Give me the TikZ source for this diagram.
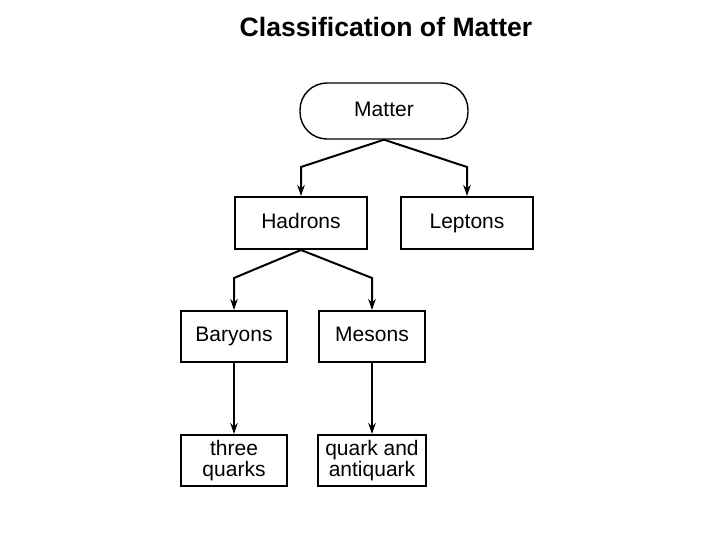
\documentclass[tikz,border=0pt]{standalone}
\usepackage{fontspec}
\setmainfont{Liberation Sans}
\usetikzlibrary{arrows.meta,positioning,calc}

\begin{document}
\begin{tikzpicture}[x=1pt,y=1pt,
    n/.style={draw,line width=2pt,minimum width=132pt,minimum height=52pt,align=center,inner sep=2pt,font=\fontsize{21}{21.5}\selectfont},
    one/.style={text height=15pt,text depth=4.5pt},
    sm/.style={n,minimum width=106pt,minimum height=51pt},
    pill/.style={n,rounded corners=27pt,minimum width=168pt,minimum height=56pt,line width=1.4pt},
    a/.style={-{Stealth[length=11pt,width=7.5pt]},line width=2pt,line join=miter}]
    \useasboundingbox (0,0) rectangle (720,-540);
    \node[font=\fontsize{26.6}{30}\selectfont\bfseries] (title) at (386,-27) {Classification of Matter};
    \node[pill,one] (m) at (384,-111) {Matter};
    \node[n,one] (h) at (301,-223) {Hadrons};
    \node[n,one,right=32pt of h] (l) {Leptons};
    \node[sm,one] (b) at (234,-336.5) {Baryons};
    \node[sm,one,right=30pt of b] (me) {Mesons};
    \node[sm,below=71pt of b] (t) {three\\quarks};
    \node[sm,below=71pt of me,minimum width=108pt] (q) {quark and\\antiquark};
    \draw[a] (m.south) -- ($(h.north)+(0,29)$) -- (h.north);
    \draw[a] (m.south) -- ($(l.north)+(0,29)$) -- (l.north);
    \draw[a] (h.south) -- ($(b.north)+(0,32)$) -- (b.north);
    \draw[a] (h.south) -- ($(me.north)+(0,32)$) -- (me.north);
    \draw[a] (b) -- (t); \draw[a] (me) -- (q);
  \end{tikzpicture}
\end{document}
